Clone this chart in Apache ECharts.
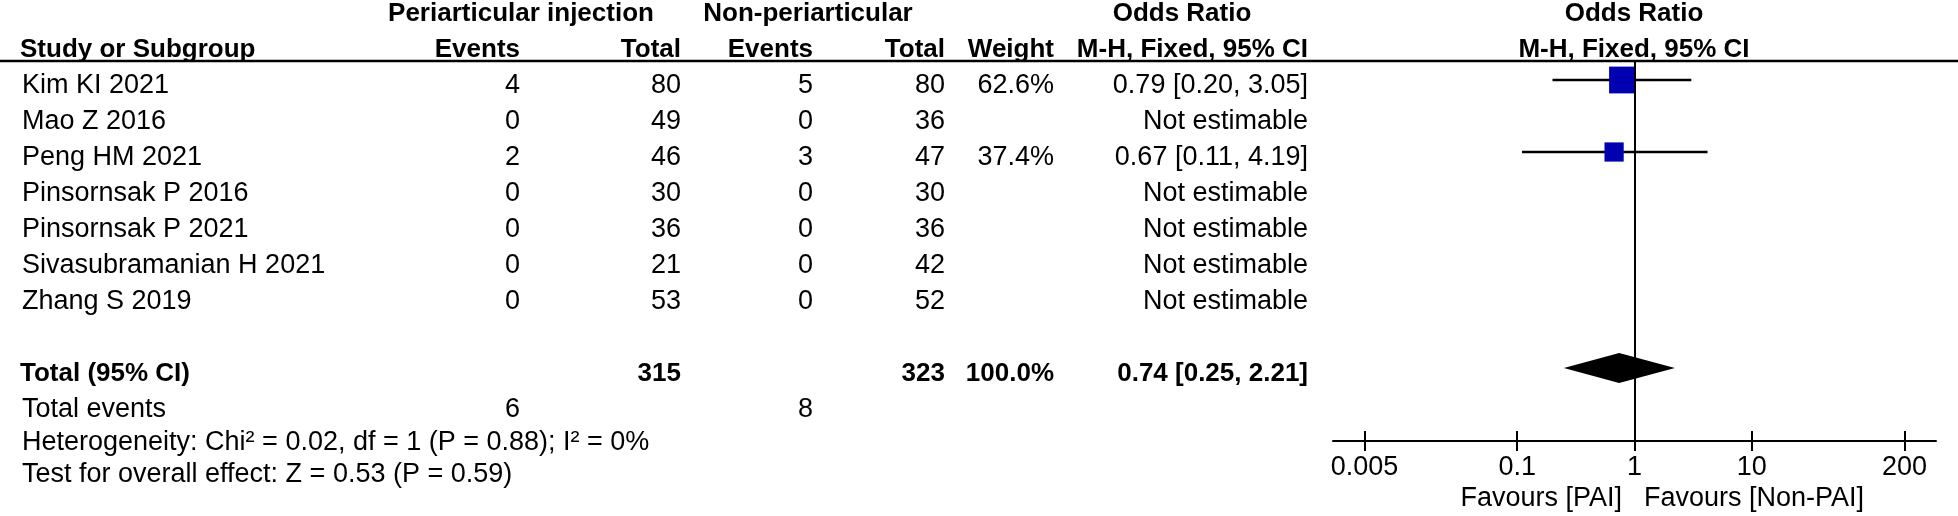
<!DOCTYPE html>
<html>
<head>
<meta charset="utf-8">
<script src="https://cdn.jsdelivr.net/npm/echarts@6/dist/echarts.min.js"></script>
<style>
  html, body { margin: 0; padding: 0; background: #fff; }
  #main { width: 1958px; height: 516px; }
</style>
</head>
<body>
<div id="main"></div>
<script>
// data
const studies = ['Kim KI 2021', 'Mao Z 2016', 'Peng HM 2021', 'Pinsornsak P 2016', 'Pinsornsak P 2021', 'Sivasubramanian H 2021', 'Zhang S 2019'];
const eventsPAI = [4, 0, 2, 0, 0, 0, 0];
const totalPAI = [80, 49, 46, 30, 36, 21, 53];
const eventsNon = [5, 0, 3, 0, 0, 0, 0];
const totalNon = [80, 36, 47, 30, 36, 42, 52];
const weights = [62.6, null, 37.4, null, null, null, null];
const oddsRatio = [0.79, null, 0.67, null, null, null, null];
const ciLow = [0.20, null, 0.11, null, null, null, null];
const ciHigh = [3.05, null, 4.19, null, null, null, null];

const sumTotalPAI = 315;
const sumTotalNon = 323;
const sumWeight = 100.0;
const sumEventsPAI = 6;
const sumEventsNon = 8;
const pooledOR = 0.74;
const pooledLow = 0.25;
const pooledHigh = 2.21;
const heterogeneityText = 'Heterogeneity: Chi² = 0.02, df = 1 (P = 0.88); I² = 0%';
const overallText = 'Test for overall effect: Z = 0.53 (P = 0.59)';

const tickValues = [0.005, 0.1, 1, 10, 200];
const tickLabels = ['0.005', '0.1', '1', '10', '200'];

// layout
const FONT = '"Liberation Sans", Arial, Helvetica, sans-serif';
const ROW0 = 80, PITCH = 36, TEXT_DY = 6;
const GRID_TOP = 61, GRID_BOTTOM = 441;
const ROW_MIN = -(ROW0 - GRID_TOP) / PITCH;
const ROW_MAX = (GRID_BOTTOM - ROW0) / PITCH;
const COL = { name: 22, ev1: 520, tot1: 681, ev2: 813, tot2: 945, weight: 1054, ci: 1308, plot: 1634 };
const TOTAL_ROW = 8;

const logTicks = tickValues.map(v => Math.log10(v));
const fmt2 = v => v.toFixed(2);
const ciText = (o, l, h) => fmt2(o) + ' [' + fmt2(l) + ', ' + fmt2(h) + ']';

// table cells
const cells = [];
function cell(x, row, text, align, bold) {
  cells.push({ x: x, row: row, text: String(text), align: align, bold: !!bold });
}
cell(521, -2, 'Periarticular injection', 'center', true);
cell(808, -2, 'Non-periarticular', 'center', true);
cell(1182, -2, 'Odds Ratio', 'center', true);
cell(COL.plot, -2, 'Odds Ratio', 'center', true);
cell(20, -1, 'Study or Subgroup', 'left', true);
cell(COL.ev1, -1, 'Events', 'right', true);
cell(COL.tot1, -1, 'Total', 'right', true);
cell(COL.ev2, -1, 'Events', 'right', true);
cell(COL.tot2, -1, 'Total', 'right', true);
cell(COL.weight, -1, 'Weight', 'right', true);
cell(COL.ci, -1, 'M-H, Fixed, 95% CI', 'right', true);
cell(COL.plot, -1, 'M-H, Fixed, 95% CI', 'center', true);

studies.forEach((s, i) => {
  cell(COL.name, i, s, 'left');
  cell(COL.ev1, i, eventsPAI[i], 'right');
  cell(COL.tot1, i, totalPAI[i], 'right');
  cell(COL.ev2, i, eventsNon[i], 'right');
  cell(COL.tot2, i, totalNon[i], 'right');
  if (weights[i] != null) cell(COL.weight, i, weights[i].toFixed(1) + '%', 'right');
  cell(COL.ci, i, oddsRatio[i] != null ? ciText(oddsRatio[i], ciLow[i], ciHigh[i]) : 'Not estimable', 'right');
});

cell(20, TOTAL_ROW, 'Total (95% CI)', 'left', true);
cell(COL.tot1, TOTAL_ROW, sumTotalPAI, 'right', true);
cell(COL.tot2, TOTAL_ROW, sumTotalNon, 'right', true);
cell(COL.weight, TOTAL_ROW, sumWeight.toFixed(1) + '%', 'right', true);
cell(COL.ci, TOTAL_ROW, ciText(pooledOR, pooledLow, pooledHigh), 'right', true);
cell(COL.name, TOTAL_ROW + 1, 'Total events', 'left');
cell(COL.ev1, TOTAL_ROW + 1, sumEventsPAI, 'right');
cell(COL.ev2, TOTAL_ROW + 1, sumEventsNon, 'right');
cell(COL.name, TOTAL_ROW + 1.9, heterogeneityText, 'left');
cell(COL.name, TOTAL_ROW + 2.8, overallText, 'left');

// study estimates in log10 units
const studyData = [];
studies.forEach((s, i) => {
  if (oddsRatio[i] == null) return;
  studyData.push([Math.log10(oddsRatio[i]), i, Math.log10(ciLow[i]), Math.log10(ciHigh[i]), weights[i]]);
});
const pooledData = [[Math.log10(pooledOR), TOTAL_ROW, Math.log10(pooledLow), Math.log10(pooledHigh)]];

function renderCell(params, api) {
  const c = cells[params.dataIndex];
  const p = api.coord([api.value(0), api.value(1)]);
  return {
    type: 'text',
    x: p[0],
    y: p[1] + TEXT_DY,
    style: {
      text: c.text,
      align: c.align, verticalAlign: 'middle',
      textAlign: c.align, textVerticalAlign: 'middle',
      fill: '#000',
      font: (c.bold ? 'bold 26px ' : '27px ') + FONT
    }
  };
}

function renderStudy(params, api) {
  const mid = api.coord([api.value(0), api.value(1)]);
  const lo = api.coord([api.value(2), api.value(1)]);
  const hi = api.coord([api.value(3), api.value(1)]);
  const s = 8 + 0.3 * api.value(4);
  return {
    type: 'group',
    children: [
      { type: 'line', shape: { x1: lo[0], y1: lo[1], x2: hi[0], y2: hi[1] }, style: { stroke: '#000', lineWidth: 2.5 } },
      { type: 'rect', shape: { x: mid[0] - s / 2, y: mid[1] - s / 2, width: s, height: s }, style: { fill: '#0000b0' } }
    ]
  };
}

function renderDiamond(params, api) {
  const mid = api.coord([api.value(0), api.value(1)]);
  const lo = api.coord([api.value(2), api.value(1)]);
  const hi = api.coord([api.value(3), api.value(1)]);
  const h = 15;
  return {
    type: 'polygon',
    shape: { points: [[lo[0], lo[1]], [mid[0], mid[1] - h], [hi[0], hi[1]], [mid[0], mid[1] + h]] },
    style: { fill: '#000' }
  };
}

function fmtTick(v) {
  const i = logTicks.findIndex(t => Math.abs(t - v) < 1e-6);
  return i >= 0 ? tickLabels[i] : '';
}

const option = {
  animation: false,
  backgroundColor: '#fff',
  grid: [
    { left: 1333, top: GRID_TOP, width: 603, height: GRID_BOTTOM - GRID_TOP },
    { left: 0, top: GRID_TOP, width: 1958, height: GRID_BOTTOM - GRID_TOP }
  ],
  xAxis: [
    {
      // bottom axis: line, labels and the upper half of each tick
      gridIndex: 0, type: 'value', min: -2.57, max: 2.57, position: 'bottom',
      axisLine: { show: true, onZero: false, lineStyle: { color: '#000', width: 2 } },
      axisTick: { show: true, inside: true, length: 10, customValues: logTicks, lineStyle: { color: '#000', width: 2 } },
      axisLabel: { show: true, customValues: logTicks, formatter: fmtTick, margin: 13, color: '#000', fontSize: 27, fontFamily: FONT },
      splitLine: { show: false }
    },
    {
      // moved down onto the bottom axis: lower half of each tick
      gridIndex: 0, type: 'value', min: -2.57, max: 2.57, position: 'top', offset: -(GRID_BOTTOM - GRID_TOP),
      axisLine: { show: false, onZero: false },
      axisTick: { show: true, inside: true, length: 10, customValues: logTicks, lineStyle: { color: '#000', width: 2 } },
      axisLabel: { show: false },
      splitLine: { show: false }
    },
    { gridIndex: 1, type: 'value', min: 0, max: 1958, show: false }
  ],
  yAxis: [
    { gridIndex: 0, type: 'value', inverse: true, min: ROW_MIN, max: ROW_MAX, show: false },
    { gridIndex: 1, type: 'value', inverse: true, min: ROW_MIN, max: ROW_MAX, show: false }
  ],
  graphic: [
    { type: 'line', shape: { x1: 0, y1: GRID_TOP, x2: 1958, y2: GRID_TOP }, style: { stroke: '#000', lineWidth: 2.5 }, z: 10 },
    { type: 'text', x: COL.plot - 12, y: 499, style: { text: 'Favours [PAI]', align: 'right', verticalAlign: 'middle', textAlign: 'right', textVerticalAlign: 'middle', fill: '#000', font: '27px ' + FONT } },
    { type: 'text', x: COL.plot + 10, y: 499, style: { text: 'Favours [Non-PAI]', align: 'left', verticalAlign: 'middle', textAlign: 'left', textVerticalAlign: 'middle', fill: '#000', font: '27px ' + FONT } }
  ],
  series: [
    {
      type: 'custom', name: 'table', xAxisIndex: 2, yAxisIndex: 1,
      renderItem: renderCell, clip: false, silent: true,
      data: cells.map(c => [c.x, c.row])
    },
    {
      type: 'custom', name: 'studies', xAxisIndex: 0, yAxisIndex: 0,
      renderItem: renderStudy, silent: true,
      data: studyData,
      markLine: {
        silent: true, symbol: ['none', 'none'], label: { show: false },
        lineStyle: { color: '#000', width: 2, type: 'solid' },
        data: [{ xAxis: 0 }]
      }
    },
    {
      type: 'custom', name: 'pooled', xAxisIndex: 0, yAxisIndex: 0,
      renderItem: renderDiamond, silent: true,
      data: pooledData
    }
  ]
};

const chart = echarts.init(document.getElementById('main'));
chart.setOption(option);
</script>
</body>
</html>
